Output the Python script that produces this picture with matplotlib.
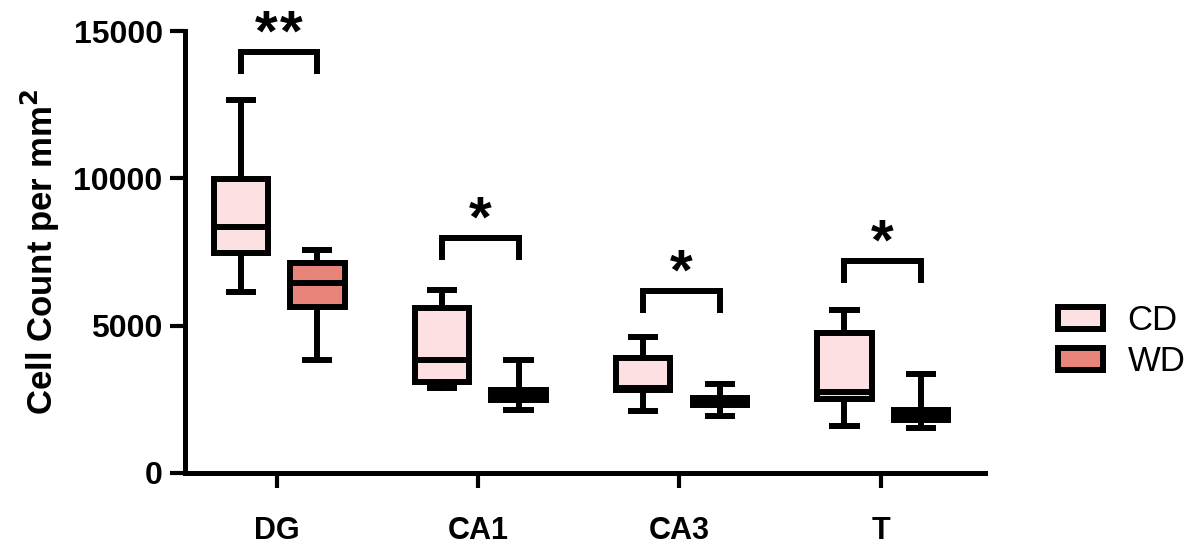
import matplotlib.pyplot as plt
from matplotlib.patches import Patch

plt.rcParams['font.family'] = ['Liberation Sans', 'DejaVu Sans']

regions = ['DG', 'CA1', 'CA3', 'T']
groups = ['CD', 'WD']
colors = {'CD': '#fde0e1', 'WD': '#e8847a'}

# five-number summaries: whislo, q1, med, q3, whishi
cd_stats = [
    [6150, 7460, 8350, 9990, 12660],
    [2890, 3080, 3840, 5600, 6210],
    [2100, 2820, 2900, 3900, 4615],
    [1590, 2510, 2750, 4750, 5530],
]
wd_stats = [
    [3830, 5630, 6450, 7130, 7570],
    [2140, 2480, 2650, 2820, 3835],
    [1935, 2300, 2450, 2545, 3020],
    [1525, 1800, 1970, 2140, 3360],
]

# significance brackets: height of bar, number of stars
sig_y = [14290, 7980, 6180, 7200]
sig_stars = [2, 1, 1, 1]

fig = plt.figure(figsize=(11.98, 5.46), dpi=100)
ax = fig.add_axes([0.1544, 0.1337, 0.668, 0.8095])

offsets = {'CD': -0.18, 'WD': 0.2}
lw = 4.3


def to_dict(s):
    return dict(whislo=s[0], q1=s[1], med=s[2], q3=s[3], whishi=s[4], fliers=[])


for g, stats in (('CD', cd_stats), ('WD', wd_stats)):
    pos = [i + offsets[g] for i in range(len(regions))]
    ax.bxp([to_dict(s) for s in stats], positions=pos, widths=0.27,
           patch_artist=True, showfliers=False,
           boxprops=dict(facecolor=colors[g], edgecolor='black', linewidth=lw),
           medianprops=dict(color='black', linewidth=lw, solid_capstyle='butt'),
           whiskerprops=dict(color='black', linewidth=lw),
           capprops=dict(color='black', linewidth=lw, solid_capstyle='butt'),
           capwidths=0.15)

leg_drop = 750
star_gap = 18  # points between neighbouring stars
for i, (y, n) in enumerate(zip(sig_y, sig_stars)):
    x0 = i + offsets['CD']
    x1 = i + offsets['WD']
    ax.plot([x0, x0, x1, x1], [y - leg_drop, y, y, y - leg_drop], color='black',
            lw=lw, solid_joinstyle='miter', solid_capstyle='butt', clip_on=False)
    for k in range(n):
        dx = (k - (n - 1) / 2) * star_gap
        ax.annotate('*', xy=((x0 + x1) / 2, y), xytext=(dx, 1), textcoords='offset points',
                    ha='center', va='baseline', fontsize=42, fontweight='bold',
                    annotation_clip=False)

ax.set_xlim(-0.458, 3.52)
ax.set_ylim(0, 15000)
ax.set_yticks([0, 5000, 10000, 15000])
ax.set_xticks(range(len(regions)))
ax.set_xticklabels(regions)

for side in ('top', 'right'):
    ax.spines[side].set_visible(False)
for side in ('left', 'bottom'):
    ax.spines[side].set_linewidth(3.6)
ax.tick_params(axis='both', width=3, length=11, labelsize=23, pad=5)
ax.tick_params(axis='x', labelsize=22, pad=20)
for lab in ax.get_xticklabels() + ax.get_yticklabels():
    lab.set_fontweight('bold')

ax.set_ylabel('Cell Count per mm$^\\mathbf{2}$', fontsize=25, fontweight='bold', labelpad=8)

handles = [Patch(facecolor=colors[g], edgecolor='black', linewidth=lw, label=g) for g in groups]
fig.legend(handles=handles, loc='center left', bbox_to_anchor=(0.857, 0.375),
           frameon=False, fontsize=25, handlelength=1.3, handleheight=0.6,
           handletextpad=0.7, labelspacing=0.22)

fig.savefig('out.png', dpi=100)
